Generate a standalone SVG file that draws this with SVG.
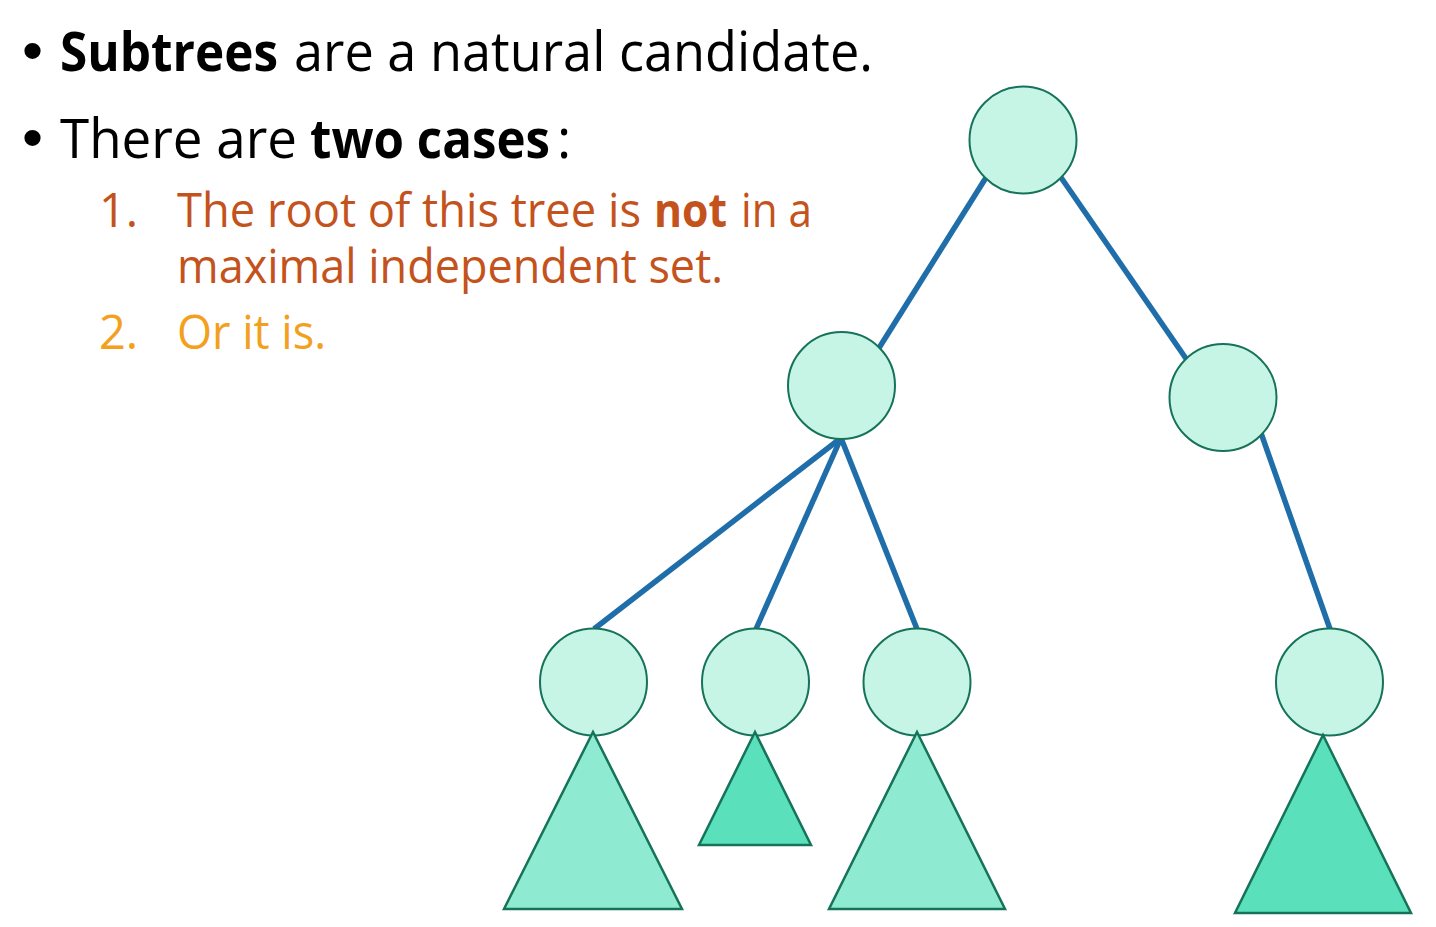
<svg xmlns="http://www.w3.org/2000/svg" width="1436" height="927" viewBox="0 0 1436 927">
  <style>
    .txt { font-family: "Open Sans", "Noto Sans", "Liberation Sans", sans-serif; }
    .dot { font-family: "Liberation Sans", Arial, sans-serif; font-size: 60px; fill: #000000; }
    .l1 { font-size: 54px; fill: #000000; }
    .l2 { font-size: 47px; }
    .c1 { fill: #C4521C; }
    .c2 { fill: #F2A01E; }
    .b { font-weight: bold; }
    .edge { stroke: #1F6EAA; stroke-width: 5.5; stroke-linecap: butt; fill: none; }
    .node { fill: #C6F5E6; stroke: #16735A; stroke-width: 2; }
    .sub-light { fill: #8EEBD1; stroke: #16735A; stroke-width: 2.5; }
    .sub-dark { fill: #5AE0BB; stroke: #16735A; stroke-width: 2.5; }
  </style>

  <!-- bullet text -->
  <g id="text">
    <text class="dot" x="22" y="71">•</text>
    <text class="txt l1 b" x="60" y="71" textLength="218" lengthAdjust="spacingAndGlyphs">Subtrees</text>
    <text class="txt l1" x="294" y="71" textLength="579" lengthAdjust="spacingAndGlyphs">are a natural candidate.</text>

    <text class="dot" x="22" y="158">•</text>
    <text class="txt l1" x="60" y="158" textLength="237" lengthAdjust="spacingAndGlyphs">There are</text>
    <text class="txt l1 b" x="310" y="158" textLength="240" lengthAdjust="spacingAndGlyphs">two cases</text>
    <text class="txt l1" x="557" y="158">:</text>

    <text class="txt l2 c1" x="99" y="227">1.</text>
    <text class="txt l2 c1" x="177" y="227" textLength="464" lengthAdjust="spacingAndGlyphs">The root of this tree is</text>
    <text class="txt l2 c1 b" x="654" y="227" textLength="73" lengthAdjust="spacingAndGlyphs">not</text>
    <text class="txt l2 c1" x="741" y="227" textLength="71" lengthAdjust="spacingAndGlyphs">in a</text>
    <text class="txt l2 c1" x="177" y="283" textLength="546" lengthAdjust="spacingAndGlyphs">maximal independent set.</text>

    <text class="txt l2 c2" x="99" y="349">2.</text>
    <text class="txt l2 c2" x="177" y="349" textLength="149" lengthAdjust="spacingAndGlyphs">Or it is.</text>
  </g>

  <!-- tree edges -->
  <g id="connectors">
    <line class="edge" x1="987" y1="176" x2="879" y2="348"/>
    <line class="edge" x1="1060" y1="176" x2="1187" y2="360"/>
    <line class="edge" x1="841" y1="438" x2="594" y2="629"/>
    <line class="edge" x1="841" y1="438" x2="756" y2="629"/>
    <line class="edge" x1="841" y1="438" x2="917" y2="629"/>
    <line class="edge" x1="1261" y1="433" x2="1330" y2="629"/>
  </g>

  <!-- tree nodes -->
  <g id="root"><circle class="node" cx="1023" cy="140" r="53.5"/></g>
  <g id="mid-left"><circle class="node" cx="841.5" cy="385.5" r="53.5"/></g>
  <g id="mid-right"><circle class="node" cx="1223" cy="397.5" r="53.5"/></g>
  <g id="leaf-1"><circle class="node" cx="593.5" cy="682" r="53.5"/></g>
  <g id="leaf-2"><circle class="node" cx="755.5" cy="682" r="53.5"/></g>
  <g id="leaf-3"><circle class="node" cx="917" cy="682" r="53.5"/></g>
  <g id="leaf-4"><circle class="node" cx="1329.5" cy="682" r="53.5"/></g>

  <!-- subtrees hanging below the leaves -->
  <g id="subtree-1"><polygon class="sub-light" points="593,732 682,909 504,909"/></g>
  <g id="subtree-2"><polygon class="sub-dark" points="755,732 811,845 699,845"/></g>
  <g id="subtree-3"><polygon class="sub-light" points="917,732 1005,909 829,909"/></g>
  <g id="subtree-4"><polygon class="sub-dark" points="1323,735 1411,913 1235,913"/></g>
</svg>
